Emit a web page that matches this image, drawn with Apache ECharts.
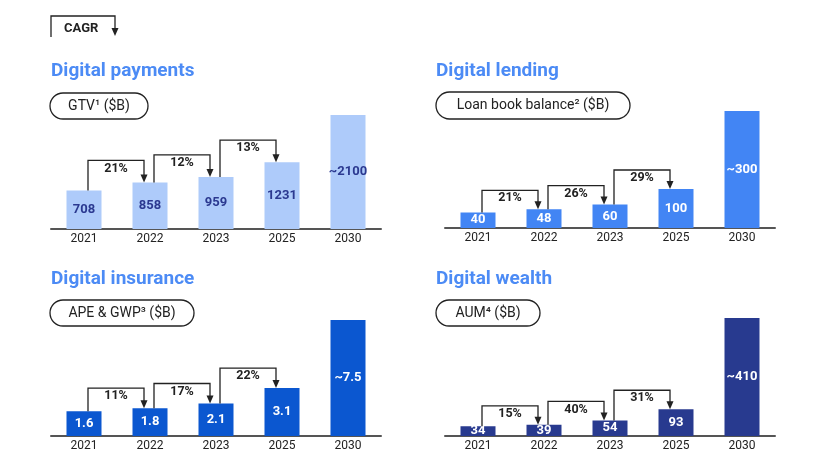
<!DOCTYPE html>
<html lang="en">
<head>
    <meta charset="UTF-8">
    <title>Digital financial services</title>
    <style>
        html, body, #main {
            width: 100%;
            height: 100%;
            margin: 0;
            padding: 0;
            background: #fff;
        }
    </style>
    <script src="https://cdn.jsdelivr.net/npm/echarts@6/dist/echarts.min.js"></script>
</head>
<body>
    <div id="main"></div>
    <script>
        // data
        const years = ['2021', '2022', '2023', '2025', '2030'];
        const paymentsGtv = [708, 858, 959, 1231, 2100];
        const lendingBalance = [40, 48, 60, 100, 300];
        const insuranceApeGwp = [1.6, 1.8, 2.1, 3.1, 7.5];
        const wealthAum = [34, 39, 54, 93, 410];
        const paymentsCagr = ['21%', '12%', '13%'];
        const lendingCagr = ['21%', '26%', '29%'];
        const insuranceCagr = ['11%', '17%', '22%'];
        const wealthCagr = ['15%', '40%', '31%'];

        const FONT = 'Roboto, "Noto Sans", sans-serif';
        const INK = '#222';

        const panels = [
            { title: 'Digital payments', unit: 'GTV¹ ($B)', values: paymentsGtv, cagr: paymentsCagr,
              color: '#AECBFA', labelColor: '#2B3990', grid: { left: 51, top: 115, width: 330, height: 114 },
              titlePos: [51, 62], pill: [50, 93, 98, 26], rise: 22 },
            { title: 'Digital lending', unit: 'Loan book balance² ($B)', values: lendingBalance, cagr: lendingCagr,
              color: '#4285F4', labelColor: '#fff', grid: { left: 445, top: 111, width: 330, height: 117 },
              titlePos: [436, 62], pill: [436, 92, 194, 27], rise: 19 },
            { title: 'Digital insurance', unit: 'APE & GWP³ ($B)', values: insuranceApeGwp, cagr: insuranceCagr,
              color: '#0B57D0', labelColor: '#fff', grid: { left: 51, top: 320, width: 330, height: 116 },
              titlePos: [51, 270], pill: [50, 300, 144, 26], rise: 20 },
            { title: 'Digital wealth', unit: 'AUM⁴ ($B)', values: wealthAum, cagr: wealthCagr,
              color: '#283A8F', labelColor: '#fff', grid: { left: 445, top: 318, width: 330, height: 118 },
              titlePos: [436, 270], pill: [436, 300, 104, 26], rise: 19 }
        ];

        // elbow connector with arrow between two bars, placed through the axes
        function cagrRenderer(panel) {
            return function (params, api) {
                const a = api.coord([api.value(0), api.value(1)]);
                const b = api.coord([api.value(2), api.value(3)]);
                const x1 = a[0] + 4, x2 = b[0] - 6;
                const yTop = Math.min(a[1], b[1]) - panel.rise;
                return {
                    type: 'group',
                    children: [
                        { type: 'polyline', shape: { points: [[x1, a[1]], [x1, yTop], [x2, yTop], [x2, b[1] - 7]] },
                          style: { stroke: INK, lineWidth: 1.3, fill: null } },
                        { type: 'polygon', shape: { points: [[x2 - 3.5, b[1] - 8], [x2 + 3.5, b[1] - 8], [x2, b[1]]] },
                          style: { fill: INK } },
                        { type: 'text', x: (x1 + x2) / 2, y: yTop + 8,
                          style: { text: panel.cagr[params.dataIndex], font: 'bold 12.5px ' + FONT, fill: INK,
                                   align: 'center', verticalAlign: 'middle' } }
                    ]
                };
            };
        }

        const option = {
            animation: false,
            title: panels.map(p => ({
                text: p.title, left: p.titlePos[0], top: p.titlePos[1], padding: 0,
                textStyle: { color: '#4C8BF5', fontSize: 19, fontWeight: 'bold', fontFamily: FONT }
            })),
            grid: panels.map(p => p.grid),
            xAxis: panels.map((p, i) => ({
                type: 'category', gridIndex: i, data: years,
                axisLine: { lineStyle: { color: '#555', width: 2 } },
                axisTick: { show: false },
                axisLabel: { color: INK, fontSize: 12, fontFamily: FONT, margin: 4 }
            })),
            yAxis: panels.map((p, i) => ({
                type: 'value', gridIndex: i, min: 0, max: p.values[p.values.length - 1], show: false
            })),
            series: [].concat(...panels.map((p, i) => [
                {
                    type: 'bar', xAxisIndex: i, yAxisIndex: i, data: p.values, barWidth: 35,
                    itemStyle: { color: p.color },
                    label: {
                        show: true, position: 'inside', color: p.labelColor, fontSize: 13,
                        fontWeight: 'bold', fontFamily: FONT,
                        formatter: d => (d.dataIndex === years.length - 1 ? '~' : '') + d.value
                    }
                },
                {
                    type: 'custom', xAxisIndex: i, yAxisIndex: i, silent: true, z: 5,
                    renderItem: cagrRenderer(p),
                    encode: { x: [0, 2], y: [1, 3] },
                    data: p.cagr.map((c, k) => [k, p.values[k], k + 1, p.values[k + 1]])
                }
            ])),
            graphic: [
                // CAGR key
                { type: 'polyline', shape: { points: [[51, 37], [51, 16], [115, 16], [115, 28]] },
                  style: { stroke: INK, lineWidth: 1.3, fill: null } },
                { type: 'polygon', shape: { points: [[111.5, 28], [118.5, 28], [115, 36]] }, style: { fill: INK } },
                { type: 'text', x: 64, y: 29, style: { text: 'CAGR', font: 'bold 13px ' + FONT, fill: INK, verticalAlign: 'middle' } }
            ].concat(...panels.map(p => [
                { type: 'rect', shape: { x: p.pill[0], y: p.pill[1], width: p.pill[2], height: p.pill[3], r: p.pill[3] / 2 },
                  style: { stroke: INK, lineWidth: 1.3, fill: null } },
                { type: 'text', x: p.pill[0] + p.pill[2] / 2, y: p.pill[1] + p.pill[3] / 2,
                  style: { text: p.unit, font: '14px ' + FONT, fill: INK, align: 'center', verticalAlign: 'middle' } }
            ]))
        };

        const chart = echarts.init(document.getElementById('main'));
        chart.setOption(option);
    </script>
</body>
</html>
